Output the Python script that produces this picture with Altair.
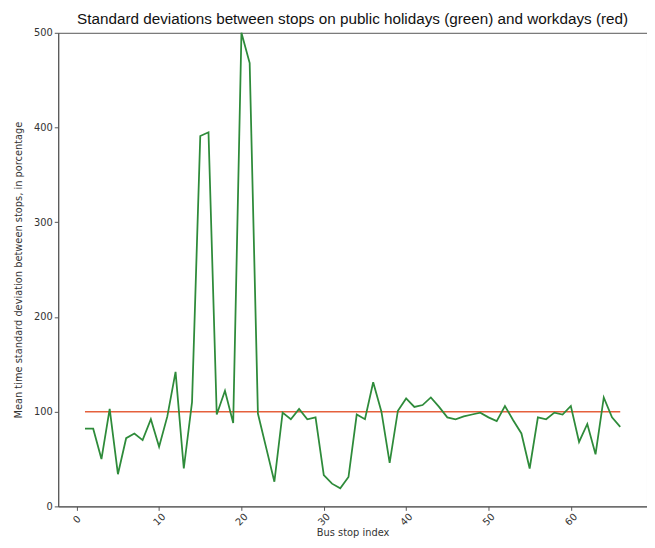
import altair as alt
import pandas as pd

stop_index = list(range(1, 67))
holiday_std = [82, 82, 50, 103, 34, 72, 77, 70, 92, 63,
               95, 142, 40, 110, 391, 395, 97, 122, 88, 500,
               468, 98, 62, 26, 99, 92, 103, 92, 94, 33,
               24, 19, 31, 97, 92, 131, 100, 46, 101, 114,
               105, 107, 115, 105, 94, 92, 95, 97, 99, 94,
               90, 106, 91, 77, 40, 94, 92, 99, 97, 106,
               68, 87, 55, 115, 94, 84]
workday_std = [100] * 66

df = pd.DataFrame({"stop": stop_index, "holiday": holiday_std, "workday": workday_std})

x_scale = alt.Scale(domain=[-2.25, 69.25], nice=False, zero=False)
y_scale = alt.Scale(domain=[0, 500], nice=False)

x_axis = alt.Axis(title="Bus stop index", values=[0, 10, 20, 30, 40, 50, 60],
                  labelAngle=-45, labelAlign="center", labelBaseline="middle",
                  labelPadding=9, grid=False, tickSize=4, tickColor="#555",
                  domainColor="#555", labelFont="DejaVu Sans", labelFontSize=10,
                  labelColor="#333", titleFont="DejaVu Sans", titleFontSize=10,
                  titleFontWeight="normal", titleColor="#333", titlePadding=1)
y_axis = alt.Axis(title="Mean time standard deviation between stops, in porcentage",
                  values=[0, 100, 200, 300, 400, 500], grid=False, tickSize=4,
                  tickColor="#555", domainColor="#555", labelFont="DejaVu Sans",
                  labelFontSize=10, labelColor="#333", titleFont="DejaVu Sans",
                  titleFontSize=10, titleFontWeight="normal", titleColor="#333",
                  titlePadding=10)

base = alt.Chart(df)

red = base.mark_line(color="#e5603c", strokeWidth=1.6).encode(
    x=alt.X("stop:Q", scale=x_scale, axis=x_axis),
    y=alt.Y("workday:Q", scale=y_scale, axis=y_axis),
)
green = base.mark_line(color="#2e8b3a", strokeWidth=1.8).encode(
    x=alt.X("stop:Q", scale=x_scale),
    y=alt.Y("holiday:Q", scale=y_scale),
)

chart = alt.layer(red, green).properties(
    width=598, height=481,
    padding={"left": 5, "top": 0, "right": 0, "bottom": 0},
    title=alt.TitleParams(
        "Standard deviations between stops on public holidays (green) and  workdays (red)",
        font="Liberation Sans", fontSize=15.5, fontWeight="normal", color="#111", offset=0,
    ),
).configure_view(stroke="#555", strokeWidth=1)

chart.save("out.html", embed_options={"renderer": "svg", "actions": False})
